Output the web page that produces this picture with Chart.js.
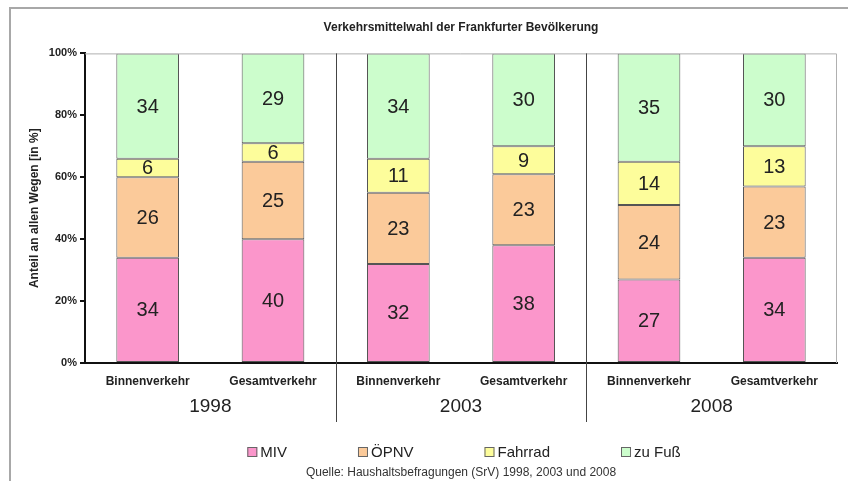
<!DOCTYPE html>
<html>
<head>
<meta charset="utf-8">
<script src="https://cdn.jsdelivr.net/npm/chart.js@4.4.1/dist/chart.umd.min.js"></script>
<style>
  html, body { margin: 0; padding: 0; background: #fff; }
  #wrap { width: 848px; height: 481px; }
</style>
</head>
<body>
<div id="wrap"><canvas id="modalChart" width="848" height="481"></canvas></div>
<script>
// Werte
var categories = ['Binnenverkehr', 'Gesamtverkehr', 'Binnenverkehr', 'Gesamtverkehr', 'Binnenverkehr', 'Gesamtverkehr'];
var years = ['1998', '2003', '2008'];
var miv = [34, 40, 32, 38, 27, 34];
var oepnv = [26, 25, 23, 23, 24, 23];
var fahrrad = [6, 6, 11, 9, 14, 13];
var zuFuss = [34, 29, 34, 30, 35, 30];
var yTicks = [0, 20, 40, 60, 80, 100];

var FONT = '"Liberation Sans", Arial, sans-serif';

// Rahmen, Trennlinien, Jahreszahlen, Legende
var decorations = {
    id: 'decorations',
    beforeDraw: function(chart) {
        var c = chart.ctx;
        c.save();
        c.fillStyle = '#fff';
        c.fillRect(0, 0, chart.width, chart.height);
        c.strokeStyle = '#a8a8a8';
        c.lineWidth = 2;
        c.beginPath();
        c.moveTo(10, chart.height);
        c.lineTo(10, 8);
        c.lineTo(chart.width, 8);
        c.stroke();
        c.restore();
    },
    afterDatasetsDraw: function(chart) {
        var c = chart.ctx;
        var a = chart.chartArea;
        var x = chart.scales.x;
        c.save();
        // Rahmen oben/rechts
        c.strokeStyle = '#b0b0b0';
        c.lineWidth = 1;
        c.beginPath();
        c.moveTo(a.left, a.top + 0.5);
        c.lineTo(a.right - 0.5, a.top + 0.5);
        c.lineTo(a.right - 0.5, a.bottom);
        c.stroke();

        // Trennlinien zwischen den Jahren
        c.strokeStyle = '#444';
        for (var i = 1; i < years.length; i++) {
            var px = Math.round((x.getPixelForValue(i * 2 - 1) + x.getPixelForValue(i * 2)) / 2) + 0.5;
            c.beginPath();
            c.moveTo(px, a.top);
            c.lineTo(px, a.bottom + 59);
            c.stroke();
        }

        // Werte in den Segmenten
        c.fillStyle = '#222';
        c.font = '20px ' + FONT;
        c.textAlign = 'center';
        c.textBaseline = 'middle';
        chart.data.datasets.forEach(function(ds, di) {
            chart.getDatasetMeta(di).data.forEach(function(bar, j) {
                c.fillText(String(ds.data[j]), bar.x, (bar.y + bar.base) / 2 + 1);
            });
        });

        // Jahreszahlen
        c.font = '19px ' + FONT;
        for (var k = 0; k < years.length; k++) {
            var cx = (x.getPixelForValue(k * 2) + x.getPixelForValue(k * 2 + 1)) / 2;
            c.fillText(years[k], cx, a.bottom + 44);
        }

        // Legende
        c.font = '15px ' + FONT;
        var gap = 71, box = 10;
        var widths = chart.data.datasets.map(function(ds) { return box + 3 + c.measureText(ds.label).width; });
        var total = widths.reduce(function(s, w) { return s + w; }, 0) + gap * (widths.length - 1);
        var lx = (a.left + a.right) / 2 + 3 - total / 2;
        var ly = a.bottom + 89;
        c.textAlign = 'left';
        chart.data.datasets.forEach(function(ds, di) {
            c.fillStyle = ds.backgroundColor;
            c.fillRect(lx, ly - box / 2, box, box);
            c.strokeStyle = '#666';
            c.strokeRect(lx + 0.5, ly - box / 2 + 0.5, box - 1, box - 1);
            c.fillStyle = '#222';
            c.fillText(ds.label, lx + box + 3, ly + 1);
            lx += widths[di] + gap;
        });
        c.restore();
    }
};

function makeSet(label, data, color) {
    return {
        label: label,
        data: data,
        backgroundColor: color,
        borderColor: '#555',
        borderWidth: 1,
        borderSkipped: false,
        categoryPercentage: 1.0,
        barPercentage: 0.5
    };
}

var ctx = document.getElementById('modalChart').getContext('2d');
var modalChart = new Chart(ctx, {
    type: 'bar',
    data: {
        labels: categories,
        datasets: [
            makeSet('MIV', miv, '#fb96cb'),
            makeSet('ÖPNV', oepnv, '#fbca9a'),
            makeSet('Fahrrad', fahrrad, '#fdfd9b'),
            makeSet('zu Fuß', zuFuss, '#ccfdcc')
        ]
    },
    options: {
        responsive: false,
        animation: false,
        layout: { padding: { left: 10, right: 11, top: 0, bottom: 0 } },
        plugins: {
            legend: { display: false },
            tooltip: { enabled: false },
            title: {
                display: true,
                text: 'Verkehrsmittelwahl der Frankfurter Bevölkerung',
                fullSize: false,
                color: '#222',
                font: { family: FONT, size: 12, weight: 'bold' },
                padding: { top: 20, bottom: 19 }
            },
            subtitle: {
                display: true,
                position: 'bottom',
                text: 'Quelle: Haushaltsbefragungen (SrV) 1998, 2003 und 2008',
                fullSize: false,
                color: '#333',
                font: { family: FONT, size: 12 },
                padding: { top: 0, bottom: 1 }
            }
        },
        scales: {
            x: {
                stacked: true,
                offset: true,
                grid: { display: true, drawOnChartArea: false, drawTicks: false },
                border: { display: true, color: '#111', width: 2 },
                ticks: { color: '#222', font: { family: FONT, size: 12, weight: 'bold' }, padding: 11, maxRotation: 0, autoSkip: false },
                afterFit: function(s) { s.height = 102.6; }
            },
            y: {
                stacked: true,
                min: 0,
                max: 100,
                afterBuildTicks: function(s) { s.ticks = yTicks.map(function(v) { return { value: v }; }); },
                ticks: {
                    color: '#222',
                    font: { family: FONT, size: 11, weight: 'bold' },
                    padding: 3,
                    callback: function(v) { return v + '%'; }
                },
                grid: { drawOnChartArea: false, drawTicks: true, tickLength: 5, color: '#111', lineWidth: 2 },
                border: { display: true, color: '#111', width: 2 },
                title: {
                    display: true,
                    text: 'Anteil an allen Wegen [in %]',
                    color: '#222',
                    font: { family: FONT, size: 12, weight: 'bold' },
                    padding: { top: 17, bottom: 0 }
                },
                afterFit: function(s) { s.width = 75; }
            }
        }
    },
    plugins: [decorations]
});
</script>
</body>
</html>
